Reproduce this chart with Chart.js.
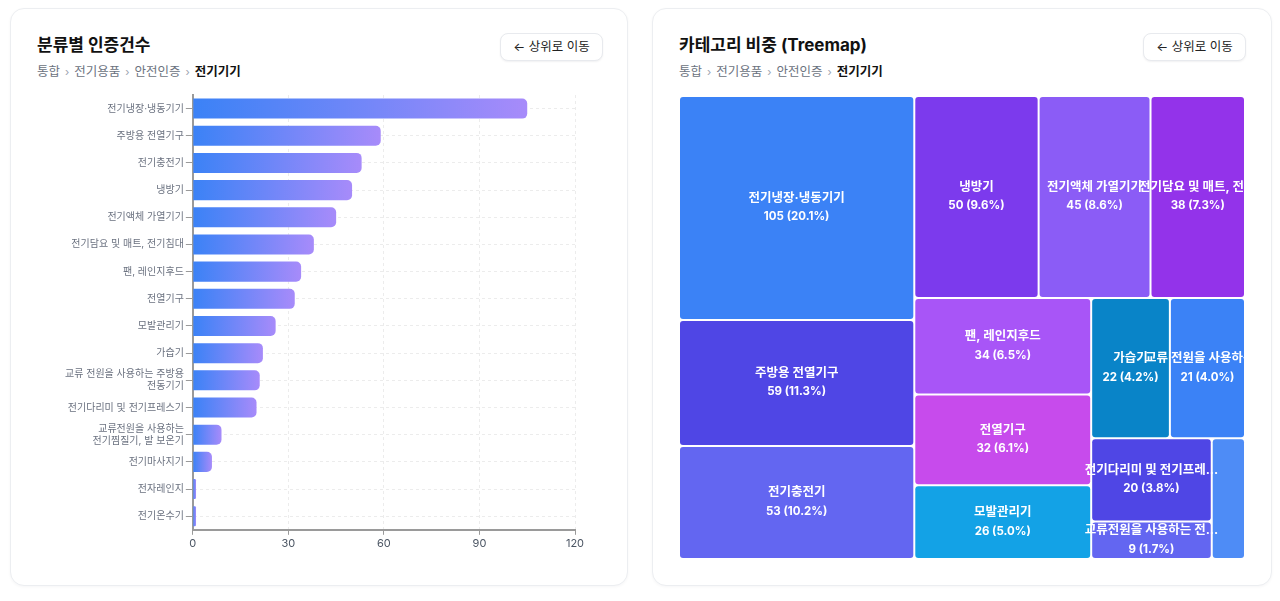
<!DOCTYPE html>
<html lang="ko">
<head>
<meta charset="UTF-8" />
<title>분류별 인증건수</title>
<script src="https://cdn.jsdelivr.net/npm/chart.js@4"></script>
<style>
  html, body { margin: 0; padding: 0; background: #fff; }
  body { width: 1280px; height: 601px; overflow: hidden; font-family: Inter, "Noto Sans CJK KR", sans-serif; }
  .card {
    position: absolute; top: 8px; height: 578px; box-sizing: border-box;
    border: 1px solid #eceef1; border-radius: 14px; background: #fff;
    box-shadow: 0 1px 3px rgba(16, 24, 40, 0.04);
  }
  #leftCard { left: 10px; width: 618px; }
  #rightCard { left: 652px; width: 620px; }
  .title { position: absolute; left: 26px; top: 25px; font-size: 17px; line-height: 22px; font-weight: 700; color: #111; }
  .crumb { position: absolute; left: 26px; top: 55px; font-size: 12.5px; line-height: 16px; color: #6b7280; }
  .crumb .sep { color: #9ca3af; margin: 0 5px; font-size: 11px; }
  .crumb b { color: #111; font-weight: 700; }
  .btn {
    position: absolute; top: 24px; height: 28px; width: 103px; box-sizing: border-box;
    border: 1px solid #e8eaee; border-radius: 8px; background: #fff;
    box-shadow: 0 1px 2px rgba(16, 24, 40, 0.06);
    font-size: 12.5px; line-height: 26px; text-align: center; color: #222;
  }
  #leftCard .btn { left: 489px; }
  #rightCard .btn { left: 490px; }
  .box { position: absolute; left: 26px; width: 566px; }
  #leftCard .box { top: 78px; height: 469px; }
  #rightCard .box { top: 87px; height: 463px; }
</style>
</head>
<body>
  <div class="card" id="leftCard">
    <div class="title">분류별 인증건수</div>
    <div class="crumb">통합<span class="sep">›</span>전기용품<span class="sep">›</span>안전인증<span class="sep">›</span><b>전기기기</b></div>
    <div class="btn">← 상위로 이동</div>
    <div class="box"><canvas id="bars"></canvas></div>
  </div>
  <div class="card" id="rightCard">
    <div class="title">카테고리 비중 (Treemap)</div>
    <div class="crumb">통합<span class="sep">›</span>전기용품<span class="sep">›</span>안전인증<span class="sep">›</span><b>전기기기</b></div>
    <div class="btn">← 상위로 이동</div>
    <div class="box"><canvas id="tree"></canvas></div>
  </div>
<script>
const categories = [
  "전기냉장·냉동기기", "주방용 전열기구", "전기충전기", "냉방기", "전기액체 가열기기",
  "전기담요 및 매트, 전기침대", "팬, 레인지후드", "전열기구", "모발관리기", "가습기",
  "교류 전원을 사용하는 주방용 전동기기", "전기다리미 및 전기프레스기",
  "교류전원을 사용하는 전기찜질기, 발 보온기", "전기마사지기", "전자레인지", "전기온수기"
];
const counts = [105, 59, 53, 50, 45, 38, 34, 32, 26, 22, 21, 20, 9, 6, 1, 1];
const axisLabels = [
  "전기냉장·냉동기기", "주방용 전열기구", "전기충전기", "냉방기", "전기액체 가열기기",
  "전기담요 및 매트, 전기침대", "팬, 레인지후드", "전열기구", "모발관리기", "가습기",
  ["교류 전원을 사용하는 주방용", "전동기기"], "전기다리미 및 전기프레스기",
  ["교류전원을 사용하는", "전기찜질기, 발 보온기"], "전기마사지기", "전자레인지", "전기온수기"
];
const xTicks = [0, 30, 60, 90, 120];
const cellColors = [
  "#3b82f6", "#4f46e5", "#6366f1", "#7c3aed", "#8b5cf6", "#9333ea", "#a855f7",
  "#c74bec", "#13a2e6", "#0984c8", "#3b82f6", "#4f46e5", "#6366f1", "#4e8cf6"
];
const treemapShown = 13; // the rest are merged into one unlabeled cell
const otherLabel = "기타";

const fontFamily = "Inter, 'Noto Sans CJK KR', sans-serif";

// ---- bar chart ----
new Chart(document.getElementById("bars"), {
  type: "bar",
  data: {
    labels: axisLabels,
    datasets: [{
      data: counts,
      backgroundColor: (c) => {
        const chart = c.chart;
        if (!chart.chartArea || c.raw == null) return "#3b82f6";
        const xs = chart.scales.x;
        const x0 = xs.getPixelForValue(0);
        const x1 = xs.getPixelForValue(c.raw);
        if (x1 - x0 < 1) return "#5b6ff0";
        const g = chart.ctx.createLinearGradient(x0, 0, x1, 0);
        g.addColorStop(0, "#3b82f6");
        g.addColorStop(1, "#a78bfa");
        return g;
      },
      borderRadius: 5,
      barPercentage: 0.9,
      categoryPercentage: 0.82,
    }],
  },
  options: {
    indexAxis: "y",
    responsive: true,
    maintainAspectRatio: false,
    animation: false,
    layout: { padding: { top: 3, right: 28, bottom: 4, left: 26 } },
    plugins: { legend: { display: false }, tooltip: { enabled: false } },
    scales: {
      x: {
        min: 0,
        max: 120,
        afterBuildTicks: (s) => { s.ticks = xTicks.map((v) => ({ value: v })); },
        grid: { color: "#ececec", tickColor: "#9a9a9a", tickLength: 5 },
        border: { color: "#9a9a9a", width: 2, dash: [3, 3] },
        ticks: { color: "#4b5563", font: { family: fontFamily, size: 11 }, padding: 2 },
      },
      y: {
        grid: { color: "#ececec", tickColor: "#9a9a9a", tickLength: 7, offset: false },
        border: { color: "#9a9a9a", width: 2, dash: [3, 3] },
        ticks: { color: "#6b7280", font: { family: fontFamily, size: 10 }, padding: 2, autoSkip: false },
      },
    },
  },
});

// ---- treemap (squarified layout drawn by a plugin on hidden linear scales) ----
function squarify(items, x0, y0, x1, y1) {
  const ratio = (1 + Math.sqrt(5)) / 2;
  const out = [];
  let value = items.reduce((s, d) => s + d.value, 0);
  let i0 = 0, i1 = 0;
  const n = items.length;
  while (i0 < n) {
    const dx = x1 - x0, dy = y1 - y0;
    let sum = items[i1++].value;
    let min = sum, max = sum;
    const alpha = Math.max(dy / dx, dx / dy) / (value * ratio);
    let beta = sum * sum * alpha;
    let minRatio = Math.max(max / beta, beta / min);
    for (; i1 < n; ++i1) {
      const v = items[i1].value;
      sum += v;
      if (v < min) min = v;
      if (v > max) max = v;
      beta = sum * sum * alpha;
      const r = Math.max(max / beta, beta / min);
      if (r > minRatio) { sum -= v; break; }
      minRatio = r;
    }
    const row = items.slice(i0, i1);
    if (dx < dy) {
      const h = dy * sum / value;
      let x = x0;
      row.forEach((d) => { const w = dx * d.value / sum; out.push(Object.assign({ x, y: y0, w, h }, d)); x += w; });
      y0 += h;
    } else {
      const w = dx * sum / value;
      let y = y0;
      row.forEach((d) => { const h = dy * d.value / sum; out.push(Object.assign({ x: x0, y, w, h }, d)); y += h; });
      x0 += w;
    }
    value -= sum;
    i0 = i1;
  }
  return out;
}

const total = counts.reduce((a, b) => a + b, 0);
const treeItems = categories.slice(0, treemapShown).map((name, i) => ({ name, value: counts[i], color: cellColors[i], label: true }));
treeItems.push({
  name: otherLabel,
  value: counts.slice(treemapShown).reduce((a, b) => a + b, 0),
  color: cellColors[treemapShown],
  label: false,
});

function shorten(s) {
  return s.length > 12 ? s.slice(0, 12) + "..." : s;
}

const treemapPlugin = {
  id: "treemapCells",
  afterDatasetsDraw(chart) {
    const { ctx, chartArea, scales } = chart;
    const left = scales.x.getPixelForValue(0), right = scales.x.getPixelForValue(1);
    const top = scales.y.getPixelForValue(1), bottom = scales.y.getPixelForValue(0);
    const cells = squarify(treeItems, left, top, right, bottom);
    ctx.save();
    ctx.beginPath();
    ctx.rect(chartArea.left, chartArea.top, chartArea.right - chartArea.left, chartArea.bottom - chartArea.top);
    ctx.clip();
    cells.forEach((c) => {
      ctx.fillStyle = c.color;
      ctx.beginPath();
      ctx.roundRect(c.x + 1, c.y + 1, c.w - 2, c.h - 2, 3);
      ctx.fill();
    });
    ctx.fillStyle = "#fff";
    ctx.textAlign = "center";
    ctx.textBaseline = "middle";
    cells.forEach((c) => {
      if (!c.label || c.w < 40 || c.h < 30) return;
      const cx = c.x + c.w / 2, cy = c.y + c.h / 2;
      ctx.font = "700 12.5px " + fontFamily;
      ctx.fillText(shorten(c.name), cx, cy - 10);
      ctx.font = "700 11.5px " + fontFamily;
      ctx.fillText(c.value + " (" + (c.value / total * 100).toFixed(1) + "%)", cx, cy + 9);
    });
    ctx.restore();
  },
};

new Chart(document.getElementById("tree"), {
  type: "scatter",
  data: { datasets: [{ data: [] }] },
  options: {
    responsive: true,
    maintainAspectRatio: false,
    animation: false,
    layout: { padding: 0 },
    plugins: { legend: { display: false }, tooltip: { enabled: false } },
    scales: {
      x: { type: "linear", min: 0, max: 1, display: false },
      y: { type: "linear", min: 0, max: 1, display: false },
    },
  },
  plugins: [treemapPlugin],
});
</script>
</body>
</html>
